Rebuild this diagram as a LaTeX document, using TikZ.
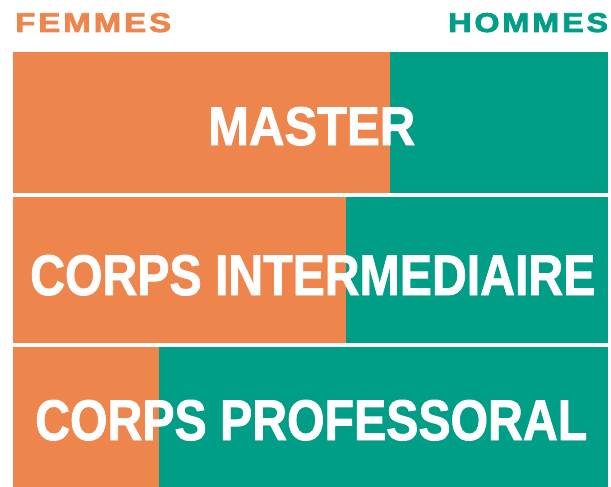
\documentclass[tikz,border=0pt]{standalone}
\usepackage{fontspec}
\setmainfont{Liberation Sans}
\newfontfamily\spacedfont[LetterSpace=9,FakeBold=2.5]{Liberation Sans}
\newfontfamily\heavyfont[FakeBold=1.6]{Liberation Sans}
\definecolor{femorange}{RGB}{238,133,76}
\definecolor{homteal}{RGB}{0,158,134}
\begin{document}
\begin{tikzpicture}[x=1pt,y=-1pt,
  biglabel/.style={inner sep=0pt,anchor=base west,text=white,font=\heavyfont\bfseries},
  headlabel/.style={inner sep=0pt,anchor=base west,font=\spacedfont\bfseries}]
\useasboundingbox[fill=white] (0,0) rectangle (611,487);
% band 1
\fill[femorange] (13,52) rectangle (390,193);
\fill[homteal] (390,52) rectangle (608,193);
% band 2
\fill[femorange] (13,197) rectangle (346,343);
\fill[homteal] (346,197) rectangle (608,343);
% band 3
\fill[femorange] (13,347) rectangle (159,487);
\fill[homteal] (159,347) rectangle (608,487);
% headers
\node[headlabel,text=femorange] (fem) at (15,32) {\resizebox{153pt}{19pt}{FEMMES\kern-0.9pt}};
\node[headlabel,text=homteal] (hom) at (448,32) {\resizebox{157pt}{19pt}{HOMMES\kern-0.9pt}};
% labels
\node[biglabel] (master) at (208,145) {\resizebox{207pt}{38pt}{MASTER}};
\node[biglabel] (inter) at (30,295) {\resizebox{565pt}{40pt}{CORPS INTERMEDIAIRE}};
\node[biglabel] (prof) at (35,440) {\resizebox{552pt}{40pt}{CORPS PROFESSORAL}};
\end{tikzpicture}
\end{document}
